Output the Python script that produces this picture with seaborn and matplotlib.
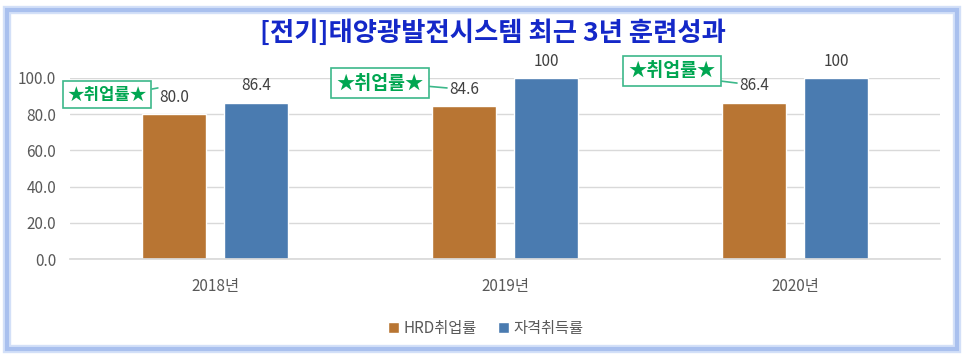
import matplotlib
matplotlib.use("Agg")
import matplotlib.pyplot as plt
import seaborn as sns
import pandas as pd
from matplotlib.patches import Rectangle

years = ["2018년", "2019년", "2020년"]
series = ["HRD취업률", "자격취득률"]
hrd = [80.0, 84.6, 86.4]
cert = [86.4, 100, 100]
hrd_labels = ["80.0", "84.6", "86.4"]
cert_labels = ["86.4", "100", "100"]
yticks = [0, 20, 40, 60, 80, 100]
title = "[전기]태양광발전시스템 최근 3년 훈련성과"
callout = "★취업률★"

sns.set_theme(style="white")
plt.rcParams['font.family'] = ['Noto Sans CJK KR', 'DejaVu Sans']

df = pd.DataFrame({
    "year": years * 2,
    "series": [series[0]] * 3 + [series[1]] * 3,
    "value": hrd + cert,
})

W, H = 966, 357
fig = plt.figure(figsize=(W / 100, H / 100), dpi=100)
fig.patch.set_facecolor("white")

# outer frame
fig.patches.append(Rectangle((7 / W, 8 / H), (W - 16) / W, (H - 18) / H,
                             transform=fig.transFigure, fill=False,
                             edgecolor="#d3e0f8", lw=6, zorder=0))
fig.patches.append(Rectangle((7 / W, 8 / H), (W - 16) / W, (H - 18) / H,
                             transform=fig.transFigure, fill=False,
                             edgecolor="#a9c0ee", lw=3, zorder=1))

ax = fig.add_axes([70 / W, 1 - 259 / H, 870 / W, (259 - 78) / H])
colors = ["#b87533", "#4a7bb0"]
sns.barplot(data=df, x="year", y="value", hue="series", palette=colors,
            width=0.566, gap=0.22, ax=ax, legend=True, saturation=1)

ax.set_ylim(0, 100)
ax.set_xlim(-0.5, 2.5)
ax.set_yticks(yticks)
ax.set_yticklabels([f"{v:.1f}" for v in yticks])
ax.yaxis.grid(True, color="#d9d9d9", lw=1)
ax.set_axisbelow(True)
for s in ax.spines.values():
    s.set_visible(False)
ax.spines["bottom"].set_visible(True)
ax.spines["bottom"].set_color("#d9d9d9")
ax.tick_params(axis="both", length=0, labelsize=11, colors="#595959")
ax.tick_params(axis="x", pad=14)
ax.tick_params(axis="y", pad=10)
ax.set_xlabel("")
ax.set_ylabel("")
for b in ax.patches:
    b.set_clip_on(False)

# value labels
for cont, labs in zip(ax.containers, [hrd_labels, cert_labels]):
    ax.bar_label(cont, labels=labs, padding=6, fontsize=11, color="#404040")

# callouts (box offset from HRD bar, tail offset from HRD bar)
green_txt = "#00a651"
green_edge = "#3cb88a"
hrd_off = -0.141
box_off = [(-0.231, 10.9, 12), (-0.29, 12.6, 13.2), (-0.283, 17.5, 13.2)]
tail_off = [(-0.056, 14.5), (-0.059, 9.9), (-0.059, 10.8)]
relpos = [(1, 0.75), (1, 0.35), (1, 0.0)]
for i in range(3):
    bx = i + hrd_off + box_off[i][0]
    by = hrd[i] + box_off[i][1]
    tx = i + hrd_off + tail_off[i][0]
    ty = hrd[i] + tail_off[i][1]
    ax.annotate(callout, xy=(tx, ty), xytext=(bx, by),
                ha="center", va="center", fontsize=box_off[i][2],
                fontweight="bold", color=green_txt, annotation_clip=False,
                bbox=dict(boxstyle="square,pad=0.28", fc="white",
                          ec=green_edge, lw=1.2),
                arrowprops=dict(arrowstyle="-", color=green_edge, lw=1.2,
                                shrinkA=0, shrinkB=0, relpos=relpos[i]))

# legend
leg = ax.legend(loc="upper center", bbox_to_anchor=(0.478, -0.26), ncol=2,
                frameon=False, fontsize=11, handlelength=0.7,
                handleheight=0.7, columnspacing=1.4, handletextpad=0.3)
for t in leg.get_texts():
    t.set_color("#595959")

fig.text(493 / W, 1 - 33 / H, title, ha="center", va="center",
         fontsize=19, fontweight="black", color="#1428c8")

fig.savefig("out.png", dpi=100, facecolor="white")
